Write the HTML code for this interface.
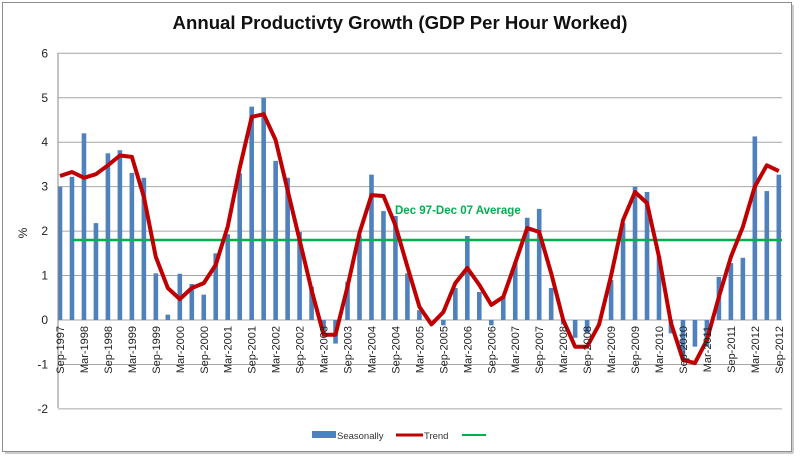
<!DOCTYPE html>
<html><head><meta charset="utf-8"><style>
html,body{margin:0;padding:0;background:#fff}
svg text{font-family:"Liberation Sans",sans-serif}
</style></head><body>
<svg width="800" height="459" viewBox="0 0 800 459" xmlns="http://www.w3.org/2000/svg">
<rect x="0" y="0" width="800" height="459" fill="#fff"/>
<rect x="2.5" y="2.5" width="789" height="449" fill="#fff" stroke="#8c8c8c" stroke-width="1"/>
<line x1="793" y1="5" x2="793" y2="453" stroke="#ccc" stroke-width="2"/>
<line x1="5" y1="453" x2="793" y2="453" stroke="#ccc" stroke-width="2"/>
<text x="400" y="29" text-anchor="middle" font-size="18.6" font-weight="bold" fill="#111">Annual Productivty Growth (GDP Per Hour Worked)</text>
<g id="grid" stroke="#a6a6a6" stroke-width="1"></g>
<g id="ylab" font-size="12" fill="#222" text-anchor="end"></g>
<text transform="translate(27,233) rotate(-90)" font-size="12" text-anchor="middle" fill="#222">%</text>
<g id="bars" fill="#4f81bd"></g>
<line x1="58" y1="53" x2="58" y2="408" stroke="#888"/>
<line x1="72" y1="240" x2="782" y2="240" stroke="#00b050" stroke-width="2.5"/>
<text x="395" y="214" font-size="11.5" font-weight="bold" fill="#00b050">Dec 97-Dec 07 Average</text>
<polyline id="trend" fill="none" stroke="#c00000" stroke-width="4" stroke-linejoin="round"/>
<g id="xlab" font-size="11" fill="#222" text-anchor="end"></g>
<rect x="312" y="431" width="24" height="7" fill="#4f81bd"/>
<text x="337" y="439" font-size="9.5" fill="#333">Seasonally</text>
<line x1="396" y1="435" x2="423" y2="435" stroke="#c00000" stroke-width="3"/>
<text x="424" y="439" font-size="9.5" fill="#333">Trend</text>
<line x1="462" y1="435" x2="486" y2="435" stroke="#00b050" stroke-width="2"/>
</svg>
<script>
(function(){
var NS="http://www.w3.org/2000/svg";
function Y(v){return 320-v*44.45;}
function X(i){return 60+i*11.98;}
var g=document.getElementById('grid'),yl=document.getElementById('ylab');
for(var v=-2;v<=6;v++){
 var l=document.createElementNS(NS,'line');l.setAttribute('x1',58);l.setAttribute('x2',782);
 l.setAttribute('y1',Y(v));l.setAttribute('y2',Y(v));g.appendChild(l);
 var t=document.createElementNS(NS,'text');t.setAttribute('x',48);t.setAttribute('y',Y(v)+4);t.textContent=v;yl.appendChild(t);
}
var bars=[3.0,3.22,4.2,2.18,3.75,3.82,3.31,3.2,1.05,0.12,1.04,0.81,0.57,1.5,1.93,3.3,4.8,5.0,3.58,3.2,1.98,0.75,-0.3,-0.53,0.86,1.9,3.27,2.45,2.34,1.05,0.22,0,-0.12,0.72,1.89,0.63,-0.12,0.52,1.3,2.3,2.5,0.72,-0.1,-0.4,-0.3,0,0.9,2.18,3.0,2.88,1.43,-0.3,-0.9,-0.6,-0.6,0.97,1.28,1.4,4.13,2.9,3.27];
var b=document.getElementById('bars');
bars.forEach(function(v,i){
 var r=document.createElementNS(NS,'rect');var y0=Y(Math.max(v,0)),y1=Y(Math.min(v,0));
 r.setAttribute('x',X(i)-2.3);r.setAttribute('width',4.6);r.setAttribute('y',y0);r.setAttribute('height',Math.max(y1-y0,0));b.appendChild(r);
});
var tr=[3.24,3.33,3.2,3.28,3.48,3.7,3.67,2.77,1.42,0.72,0.47,0.72,0.83,1.24,2.1,3.42,4.57,4.63,4.05,2.92,1.8,0.67,-0.33,-0.33,0.75,1.96,2.81,2.79,2.13,1.2,0.3,-0.1,0.18,0.83,1.17,0.79,0.34,0.52,1.28,2.07,1.98,1.05,0,-0.6,-0.6,-0.1,1.0,2.25,2.88,2.63,1.42,-0.07,-0.9,-0.97,-0.45,0.52,1.42,2.1,3.0,3.48,3.35];
document.getElementById('trend').setAttribute('points',tr.map(function(v,i){return X(i).toFixed(1)+','+Y(v).toFixed(1);}).join(' '));
var xl=document.getElementById('xlab');
for(var k=0;k<31;k++){
 var i=k*2;var yr=1997+Math.floor((k+1)/2);var m=(k%2==0)?'Sep':'Mar';
 var t=document.createElementNS(NS,'text');
 t.setAttribute('transform','translate('+(X(i)+4)+',326) rotate(-90)');
 t.textContent=m+'-'+yr;xl.appendChild(t);
}
})();
</script>
</body></html>
